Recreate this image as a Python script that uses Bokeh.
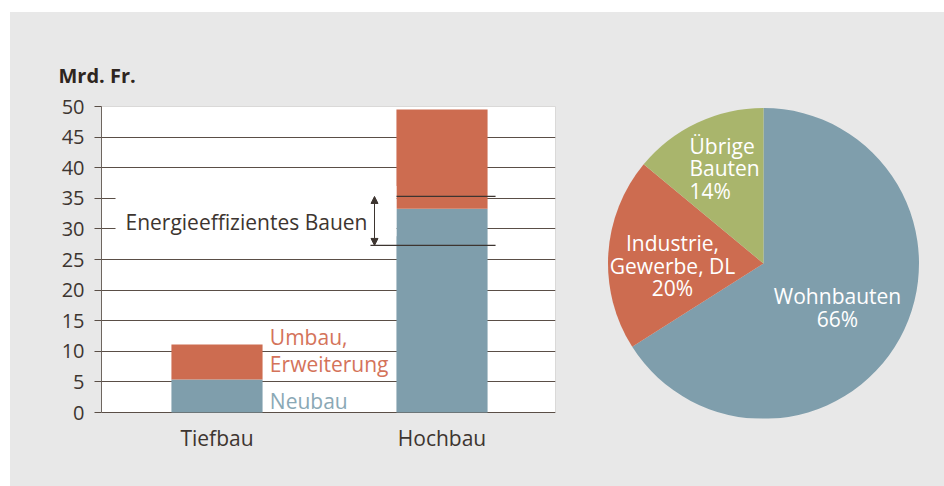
import numpy as np
from bokeh.plotting import figure
from bokeh.models import (Range1d, FixedTicker, Label, BoxAnnotation, Arrow,
                          NormalHead, ColumnDataSource)
from bokeh.layouts import row
from bokeh.core.properties import value
from bokeh.embed import file_html
from bokeh.resources import INLINE

# ---------------- data ----------------
categories = ["Tiefbau", "Hochbau"]
neubau = [5.4, 33.3]
umbau = [5.7, 16.2]
energie_range = [27.3, 35.3]
y_ticks = [0, 5, 10, 15, 20, 25, 30, 35, 40, 45, 50]

pie_names = ["Wohnbauten", "Industrie,\nGewerbe, DL", "Übrige\nBauten"]
pie_shares = [66, 20, 14]

# ---------------- style ----------------
GRAY = "#e8e8e8"
BLUE = "#7f9eac"
ORANGE = "#cd6c50"
GREEN = "#a9b56c"
DARK = "#3d3530"
GRID = "#5a4e46"
FONT = "Open Sans"

# ---------------- bar chart ----------------
xpos = [i + 1 for i in range(len(categories))]
src = ColumnDataSource(dict(x=xpos, neubau=neubau, umbau=umbau))

p = figure(width=580, height=474,
           x_range=Range1d(0.4867, 2.5044), y_range=Range1d(-0.98, 50),
           output_backend="svg", toolbar_location=None,
           min_border_left=91, min_border_right=35,
           min_border_top=94, min_border_bottom=68,
           background_fill_color=GRAY, border_fill_color=GRAY,
           outline_line_color=None)

# white plot area 0..50
p.add_layout(BoxAnnotation(bottom=0, top=50, fill_color="white", fill_alpha=1.0,
                           line_color="#6e6660", line_width=1, level="image"))

p.vbar_stack(["neubau", "umbau"], x="x", width=0.405, color=[BLUE, ORANGE],
             line_color=None, source=src)

p.xaxis.ticker = FixedTicker(ticks=xpos)
p.xaxis.major_label_overrides = {x: c for x, c in zip(xpos, categories)}
p.xaxis.axis_line_color = None
p.xaxis.major_tick_line_color = None
p.xaxis.minor_tick_line_color = None
p.xaxis.major_label_standoff = -1
p.xaxis.major_label_text_font = FONT
p.xaxis.major_label_text_font_size = "21px"
p.xaxis.major_label_text_color = DARK

p.yaxis.ticker = FixedTicker(ticks=y_ticks)
p.yaxis.bounds = (0, 50)
p.yaxis.axis_line_color = "#6e6660"
p.yaxis.major_tick_line_color = GRID
p.yaxis.major_tick_out = 7
p.yaxis.major_tick_in = 0
p.yaxis.minor_tick_line_color = None
p.yaxis.major_label_standoff = 10
p.yaxis.major_label_text_font = FONT
p.yaxis.major_label_text_font_size = "20px"
p.yaxis.major_label_text_color = DARK

p.xgrid.visible = False
p.ygrid.ticker = FixedTicker(ticks=y_ticks)
p.ygrid.grid_line_color = GRID

p.title.text = "Mrd. Fr."
p.title.align = "left"
p.title.offset = -43
p.title.standoff = 36
p.title.text_font = FONT
p.title.text_font_size = "20px"
p.title.text_font_style = "bold"
p.title.text_color = "#2e2520"

# white box behind the annotation text
p.add_layout(BoxAnnotation(left=0.549, right=1.7975, bottom=28.8, top=37.0,
                           fill_color="white", fill_alpha=1.0, line_color=None))
p.segment(x0=[1.682, 1.682], x1=[2.238, 2.238], y0=energie_range, y1=energie_range,
          line_color=DARK, line_width=1.2)
p.add_layout(Arrow(start=NormalHead(size=7, fill_color=DARK, line_color=DARK),
                   end=NormalHead(size=7, fill_color=DARK, line_color=DARK),
                   x_start=1.70, y_start=energie_range[0],
                   x_end=1.70, y_end=energie_range[1],
                   line_color=DARK, line_width=1))
p.add_layout(Label(x=0.5933, y=31.2, text="Energieeffizientes Bauen",
                   text_font=FONT, text_font_size="21px",
                   text_color=DARK, text_baseline="alphabetic"))

p.add_layout(Label(x=1.235, y=12.35, text="Umbau,", text_font=FONT,
                   text_font_size="21px", text_color="#d4735a",
                   text_baseline="alphabetic"))
p.add_layout(Label(x=1.235, y=7.94, text="Erweiterung", text_font=FONT,
                   text_font_size="21px", text_color="#d4735a",
                   text_baseline="alphabetic"))
p.add_layout(Label(x=1.235, y=1.89, text="Neubau", text_font=FONT,
                   text_font_size="21px", text_color="#8aa8b5",
                   text_baseline="alphabetic"))

# ---------------- pie chart ----------------
shares = np.array(pie_shares, dtype=float) / sum(pie_shares)
cum = np.concatenate([[0], np.cumsum(shares)])
start = np.pi / 2 - cum[:-1] * 2 * np.pi
end = np.pi / 2 - cum[1:] * 2 * np.pi
psrc = ColumnDataSource(dict(start=start, end=end, color=[BLUE, ORANGE, GREEN]))

q = figure(width=354, height=474,
           x_range=Range1d(-1.1125, 1.164), y_range=Range1d(-0.9968, 1.0096),
           x_axis_type=None, y_axis_type=None,
           output_backend="svg", toolbar_location=None,
           min_border_left=0, min_border_right=0,
           min_border_top=94, min_border_bottom=68,
           background_fill_color=None, border_fill_color=GRAY,
           outline_line_color=None)
q.grid.visible = False
q.wedge(x=0, y=0, radius=1, start_angle="start", end_angle="end",
        direction="clock", fill_color="color", line_color=None, source=psrc)

texts = [f"{n}\n{s}%" for n, s in zip(pie_names, pie_shares)]
label_xy = [(0.476, -0.283), (-0.585, -0.013), (-0.476, 0.611)]
label_align = ["center", "center", "left"]
for t, (lx, ly), al in zip(texts, label_xy, label_align):
    q.text(x=[lx], y=[ly], text=[t], text_font=value(FONT), text_font_size="21px",
           text_color="white", text_align=al, text_baseline="middle",
           text_line_height=0.81)

layout = row(p, q, margin=(12, 0, 0, 10), styles={"background-color": GRAY})
open("out.html", "w").write(file_html(layout, INLINE))
